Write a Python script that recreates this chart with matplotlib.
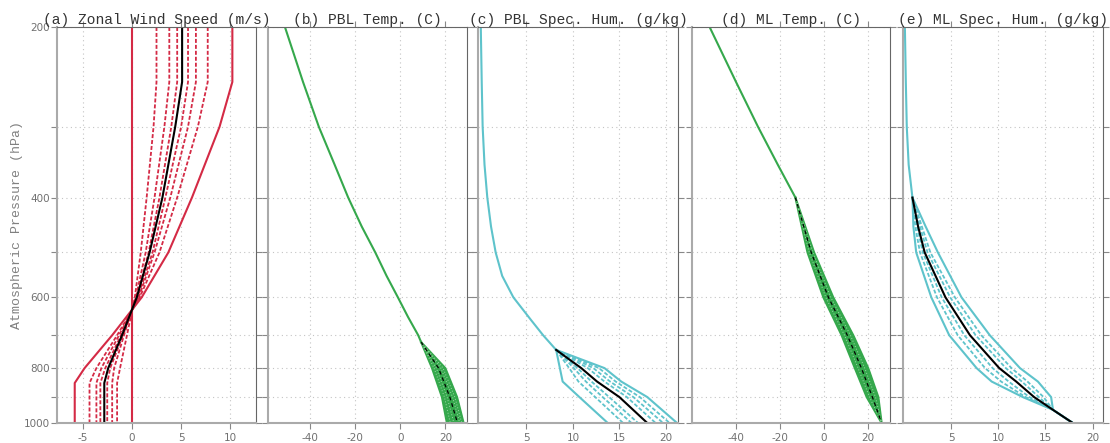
import numpy as np
import matplotlib
matplotlib.use('Agg')
from matplotlib import pyplot as plt
from matplotlib.ticker import FixedLocator, NullFormatter

plt.rcParams.update({'font.family': 'DejaVu Sans', 'font.size': 8})

RED = '#d42a45'
GREEN = '#35a84c'
GREEN_LT = '#9fd8aa'
CYAN = '#5ec3cb'

P_MAJOR = [200, 400, 600, 800, 1000]
P_MINOR = [300, 500, 700, 900]

# ---------------- (a) zonal wind ----------------
p_a = [200, 250, 300, 400, 500, 600, 700, 800, 850, 1000]
u_max = [10.2, 10.2, 8.9, 6.1, 3.7, 1.0, -2.0, -4.8, -5.8, -5.8]
u_q1 = [7.7, 7.7, 6.7, 4.6, 2.8, 0.8, -1.5, -3.6, -4.3, -4.3]
u_q2 = [6.5, 6.5, 5.7, 3.9, 2.3, 0.7, -1.3, -3.1, -3.6, -3.6]
u_q3 = [5.7, 5.7, 5.0, 3.4, 2.1, 0.6, -1.1, -2.7, -3.2, -3.2]
u_mean = [5.1, 5.1, 4.4, 3.1, 1.8, 0.5, -1.0, -2.4, -2.8, -2.8]
u_q4 = [4.6, 4.6, 4.0, 2.8, 1.7, 0.5, -0.9, -2.2, -2.5, -2.5]
u_q5 = [3.8, 3.8, 3.3, 2.3, 1.4, 0.4, -0.8, -1.8, -2.0, -2.0]
u_q6 = [2.5, 2.5, 2.2, 1.5, 0.9, 0.3, -0.5, -1.2, -1.5, -1.5]
u_min = [0, 0, 0, 0, 0, 0, 0, 0, 0, 0]

# ---------------- (b) PBL temperature ----------------
p_b_up = [200, 250, 300, 350, 400, 450, 500, 550, 600, 650, 700, 720]
t_b_up = [-51, -43, -36, -29, -23, -17, -11, -6, -1, 3.5, 8, 9.3]
p_b_low = [720, 800, 900, 1000]
t_b_min = [9.3, 14.1, 18.5, 20.7]
t_b_q1 = [9.3, 15.0, 19.6, 22.2]
t_b_q2 = [9.3, 16.0, 20.8, 23.8]
t_b_mean = [9.3, 17.0, 22.0, 25.4]
t_b_q3 = [9.3, 18.0, 23.2, 26.4]
t_b_q4 = [9.3, 19.0, 24.2, 27.3]
t_b_max = [9.3, 20.0, 25.2, 28.1]

# ---------------- (c) PBL specific humidity ----------------
p_c_up = [200, 250, 300, 350, 400, 450, 500, 550, 600, 658, 700, 743]
q_c_up = [0.1, 0.2, 0.3, 0.5, 0.8, 1.2, 1.7, 2.4, 3.6, 5.5, 6.8, 8.2]
p_c_low = [743, 800, 845, 900, 1000]
q_c_min = [8.2, 8.6, 8.9, 10.7, 13.75]
q_c_q1 = [8.2, 9.6, 10.6, 12.4, 15.4]
q_c_q2 = [8.2, 10.1, 11.4, 13.2, 16.3]
q_c_q3 = [8.2, 10.5, 12.0, 13.9, 17.0]
q_c_mean = [8.2, 10.9, 12.6, 15.0, 18.0]
q_c_q4 = [8.2, 11.6, 13.4, 15.8, 18.9]
q_c_q5 = [8.2, 12.2, 14.0, 16.5, 19.7]
q_c_q6 = [8.2, 12.8, 14.6, 17.2, 20.4]
q_c_max = [8.2, 13.4, 15.2, 18.0, 21.2]

# ---------------- (d) ML temperature ----------------
p_d_up = [200, 250, 300, 350, 400]
t_d_up = [-52, -40, -30, -21, -13]
p_d_low = [400, 500, 600, 700, 800, 900, 1000]
t_d_min = [-13, -7.5, -0.3, 8.0, 14.0, 19.4, 26.2]
t_d_q1 = [-13, -6.7, 0.8, 9.3, 15.5, 20.7, 26.2]
t_d_mean = [-13, -5.8, 2.0, 10.6, 17.0, 22.0, 26.2]
t_d_q2 = [-13, -5.1, 3.1, 12.0, 18.5, 23.4, 26.2]
t_d_max = [-13, -4.5, 4.2, 13.3, 20.1, 24.7, 26.2]

# ---------------- (e) ML specific humidity ----------------
p_e_up = [200, 250, 300, 350, 400]
q_e_up = [0.1, 0.2, 0.3, 0.5, 0.9]
p_e_low = [400, 450, 500, 600, 700, 800, 845, 900, 948, 1000]
q_e_min = [0.9, 1.0, 1.3, 2.9, 4.8, 7.7, 9.3, 12.6, 15.8, 17.9]
q_e_q1 = [0.9, 1.2, 1.7, 3.5, 5.7, 8.6, 10.3, 12.9, 15.8, 17.9]
q_e_q2 = [0.9, 1.4, 2.0, 4.0, 6.4, 9.4, 11.1, 13.3, 15.8, 17.9]
q_e_mean = [0.9, 1.5, 2.2, 4.4, 7.0, 10.1, 11.9, 13.8, 15.8, 17.9]
q_e_q3 = [0.9, 1.7, 2.5, 4.9, 7.6, 10.8, 12.5, 14.3, 15.8, 17.9]
q_e_q4 = [0.9, 1.9, 2.8, 5.4, 8.2, 11.4, 13.1, 14.8, 15.8, 17.9]
q_e_max = [0.9, 2.3, 3.6, 6.1, 9.1, 12.3, 14.2, 15.6, 15.8, 17.9]


def style_axes(ax, xlim, xticks, title, ylabels=False):
    ax.set_yscale('log')
    ax.set_ylim(1000, 200)
    ax.yaxis.set_major_locator(FixedLocator(P_MAJOR))
    ax.yaxis.set_minor_locator(FixedLocator(P_MINOR))
    ax.yaxis.set_minor_formatter(NullFormatter())
    if ylabels:
        ax.set_yticklabels([str(p) for p in P_MAJOR])
    else:
        ax.set_yticklabels([])
    ax.set_xlim(xlim)
    ax.set_xticks(xticks)
    ax.set_xticklabels([str(x) for x in xticks])
    ax.set_axisbelow(True)
    ax.grid(True, which='both', ls=(0, (1, 3)), color='#c4c4c4', lw=0.8)
    ax.tick_params(which='both', direction='out', top=True, right=True,
                   length=4, width=0.8, color='#888888', labelcolor='#707070',
                   labelsize=7.5)
    ax.tick_params(axis='x', pad=3)
    ax.tick_params(axis='y', pad=1)
    for s in ['left', 'bottom']:
        ax.spines[s].set_color('#aaaaaa')
        ax.spines[s].set_linewidth(1.5)
    for s in ['top', 'right']:
        ax.spines[s].set_color('#666666')
        ax.spines[s].set_linewidth(0.8)
    ax.set_title(title, family='Liberation Mono', fontsize=10.5, color='#333333', pad=1)


fig = plt.figure(figsize=(11.1, 4.43), dpi=100)
bot, hgt = 20 / 443, 396 / 443
ax_a = fig.add_axes([57 / 1110, bot, 199 / 1110, hgt])
ax_b = fig.add_axes([268 / 1110, bot, 199 / 1110, hgt])
ax_c = fig.add_axes([478 / 1110, bot, 200 / 1110, hgt])
ax_d = fig.add_axes([692 / 1110, bot, 198 / 1110, hgt])
ax_e = fig.add_axes([903 / 1110, bot, 200 / 1110, hgt])

DASH = (2.2, 1.1)

# (a)
for u in [u_q1, u_q2, u_q3, u_q4, u_q5, u_q6]:
    ax_a.plot(u, p_a, color=RED, lw=1.3, dashes=DASH)
ax_a.plot(u_min, p_a, color=RED, lw=1.5)
ax_a.plot(u_max, p_a, color=RED, lw=1.5)
ax_a.plot(u_mean, p_a, color='black', lw=1.5)
style_axes(ax_a, (-7.6, 12.6), [-5, 0, 5, 10], '(a) Zonal Wind Speed (m/s)', ylabels=True)
ax_a.set_ylabel('Atmospheric Pressure (hPa)', family='Liberation Mono', fontsize=9.5,
                color='#808080', labelpad=1)

# (b)
ax_b.plot(t_b_up, p_b_up, color=GREEN, lw=1.5)
ax_b.fill_betweenx(p_b_low, t_b_min, t_b_max, color=GREEN, lw=0)
ax_b.plot(t_b_min, p_b_low, color=GREEN, lw=1.5)
ax_b.plot(t_b_max, p_b_low, color=GREEN, lw=1.5)
for t in [t_b_q1, t_b_q2, t_b_q3, t_b_q4]:
    ax_b.plot(t, p_b_low, color=GREEN_LT, lw=0.7, dashes=(1, 2))
ax_b.plot(t_b_mean, p_b_low, color='black', lw=0.9, dashes=(3, 2.5))
style_axes(ax_b, (-58.5, 29.6), [-40, -20, 0, 20], '(b) PBL Temp. (C)')

# (c)
ax_c.plot(q_c_up, p_c_up, color=CYAN, lw=1.5)
for q in [q_c_q1, q_c_q2, q_c_q3, q_c_q4, q_c_q5, q_c_q6]:
    ax_c.plot(q, p_c_low, color=CYAN, lw=1.3, dashes=DASH)
ax_c.plot(q_c_min, p_c_low, color=CYAN, lw=1.5)
ax_c.plot(q_c_max, p_c_low, color=CYAN, lw=1.5)
ax_c.plot(q_c_mean, p_c_low, color='black', lw=1.5)
style_axes(ax_c, (-0.2, 21.3), [5, 10, 15, 20], '(c) PBL Spec. Hum. (g/kg)')

# (d)
ax_d.plot(t_d_up, p_d_up, color=GREEN, lw=1.5)
ax_d.fill_betweenx(p_d_low, t_d_min, t_d_max, color=GREEN, lw=0)
ax_d.plot(t_d_min, p_d_low, color=GREEN, lw=1.5)
ax_d.plot(t_d_max, p_d_low, color=GREEN, lw=1.5)
for t in [t_d_q1, t_d_q2]:
    ax_d.plot(t, p_d_low, color=GREEN_LT, lw=0.7, dashes=(1, 2))
ax_d.plot(t_d_mean, p_d_low, color='black', lw=0.9, dashes=(3, 2.5))
style_axes(ax_d, (-60, 30), [-40, -20, 0, 20], '(d) ML Temp. (C)')

# (e)
ax_e.plot(q_e_up, p_e_up, color=CYAN, lw=1.5)
for q in [q_e_q1, q_e_q2, q_e_q3, q_e_q4]:
    ax_e.plot(q, p_e_low, color=CYAN, lw=1.3, dashes=DASH)
ax_e.plot(q_e_min, p_e_low, color=CYAN, lw=1.5)
ax_e.plot(q_e_max, p_e_low, color=CYAN, lw=1.5)
ax_e.plot(q_e_mean, p_e_low, color='black', lw=1.5)
style_axes(ax_e, (-0.1, 21.1), [5, 10, 15, 20], '(e) ML Spec. Hum. (g/kg)')

fig.savefig('out.png', dpi=100)
